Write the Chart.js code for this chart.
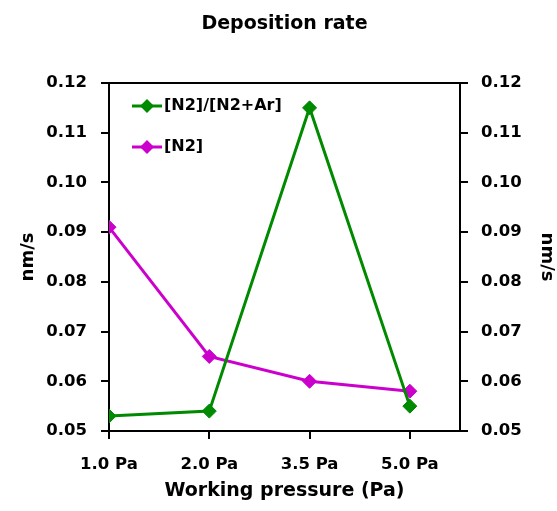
<!DOCTYPE html>
<html lang="en">
<head>
  <meta charset="UTF-8">
  <title>Deposition rate</title>
  <script src="https://cdn.jsdelivr.net/npm/chart.js"></script>
  <style>
    html, body { margin: 0; padding: 0; background: #fff; }
  </style>
</head>
<body>
  <canvas id="rateChart" width="557" height="511"></canvas>
  <script>
    // values
    const pressures = ['1.0 Pa', '2.0 Pa', '3.5 Pa', '5.0 Pa'];
    const ratioN2Ar = [0.053, 0.054, 0.115, 0.055];
    const onlyN2 = [0.091, 0.065, 0.060, 0.058];
    const yTicks = [0.05, 0.06, 0.07, 0.08, 0.09, 0.10, 0.11, 0.12];

    const GREEN = '#008a00';
    const MAGENTA = '#cc00cc';
    const FONT = '"DejaVu Sans", sans-serif';

    // line + diamond, like the spreadsheet legend
    function legendIcon(color) {
      const c = document.createElement('canvas');
      c.width = 30; c.height = 16;
      const g = c.getContext('2d');
      g.strokeStyle = color;
      g.lineWidth = 3;
      g.beginPath(); g.moveTo(0, 8); g.lineTo(30, 8); g.stroke();
      g.fillStyle = color;
      g.beginPath(); g.moveTo(15, 1); g.lineTo(22, 8); g.lineTo(15, 15); g.lineTo(8, 8); g.closePath(); g.fill();
      return c;
    }

    // the built-in 'chartArea' legend forgets its top, so place it by hand
    const legendInside = {
      id: 'legendInside',
      beforeDraw(chart) {
        const l = chart.legend, a = chart.chartArea;
        l.left = a.left + 4; l.right = l.left + l.width;
        l.top = a.top - 10; l.bottom = l.top + l.height;
      }
    };

    const toPoints = arr => arr.map((v, i) => ({ x: i, y: v }));

    const tickFont = { family: FONT, size: 16.5, weight: 'bold' };

    new Chart(document.getElementById('rateChart'), {
      type: 'line',
      data: {
        datasets: [
          {
            label: '[N2]/[N2+Ar]',
            data: toPoints(ratioN2Ar),
            borderColor: GREEN, backgroundColor: GREEN,
            borderWidth: 3, pointStyle: 'rectRot', pointRadius: 7, pointBorderWidth: 1
          },
          {
            label: '[N2]',
            data: toPoints(onlyN2),
            borderColor: MAGENTA, backgroundColor: MAGENTA,
            borderWidth: 3, pointStyle: 'rectRot', pointRadius: 7, pointBorderWidth: 1
          }
        ]
      },
      options: {
        responsive: false,
        animation: false,
        layout: { padding: 0 },
        plugins: {
          title: {
            display: true, text: 'Deposition rate', color: '#000',
            fullSize: false,
            font: { family: FONT, size: 19, weight: 'bold' },
            padding: { top: 12.6, bottom: 0 }
          },
          legend: {
            position: 'chartArea',
            align: 'start',
            labels: {
              color: '#000',
              font: { family: FONT, size: 16, weight: 'bold' },
              usePointStyle: true,
              boxHeight: 14, pointStyleWidth: 18,
              padding: 25,
              generateLabels: chart => chart.data.datasets.map((ds, i) => ({
                text: ds.label,
                fillStyle: ds.borderColor,
                strokeStyle: ds.borderColor,
                lineWidth: 0,
                pointStyle: legendIcon(ds.borderColor),
                fontColor: '#000',
                datasetIndex: i,
                hidden: false
              }))
            }
          },
          tooltip: { enabled: false }
        },
        scales: {
          x: {
            type: 'linear', position: 'bottom', min: 0, max: 3.5,
            afterBuildTicks: s => { s.ticks = pressures.map((_, i) => ({ value: i })); },
            afterFit: s => { s.height = 80; },
            ticks: { color: '#000', font: tickFont, padding: 16, maxRotation: 0, callback: v => pressures[v] },
            grid: { drawOnChartArea: false, tickLength: 8, color: '#000', lineWidth: 2 },
            border: { color: '#000', width: 2 },
            title: { display: true, text: 'Working pressure (Pa)', color: '#000',
                     font: { family: FONT, size: 19, weight: 'bold' }, padding: { top: 0, bottom: 9 } }
          },
          xTop: {
            type: 'linear', position: 'top', min: 0, max: 3.5,
            afterFit: s => { s.height = 47.6; },
            ticks: { display: false },
            grid: { display: false },
            border: { color: '#000', width: 2 }
          },
          y: {
            position: 'left', min: 0.05, max: 0.12,
            afterBuildTicks: s => { s.ticks = yTicks.map(v => ({ value: v })); },
            afterFit: s => { s.width = 109; },
            ticks: { color: '#000', font: tickFont, padding: 14, callback: v => v.toFixed(2) },
            grid: { drawOnChartArea: false, tickLength: 8, color: '#000', lineWidth: 2 },
            border: { color: '#000', width: 2 },
            title: { display: true, text: 'nm/s', color: '#000',
                     font: { family: FONT, size: 18, weight: 'bold' }, padding: { top: 18, bottom: 0 } }
          },
          yRight: {
            position: 'right', min: 0.05, max: 0.12,
            afterBuildTicks: s => { s.ticks = yTicks.map(v => ({ value: v })); },
            afterFit: s => { s.width = 97; },
            ticks: { color: '#000', font: tickFont, padding: 13, callback: v => v.toFixed(2) },
            grid: { drawOnChartArea: false, tickLength: 8, color: '#000', lineWidth: 2 },
            border: { color: '#000', width: 2 },
            title: { display: true, text: 'nm/s', color: '#000',
                     font: { family: FONT, size: 18, weight: 'bold' }, padding: { top: 0, bottom: 0 } }
          }
        }
      },
      plugins: [legendInside]
    });
  </script>
</body>
</html>
